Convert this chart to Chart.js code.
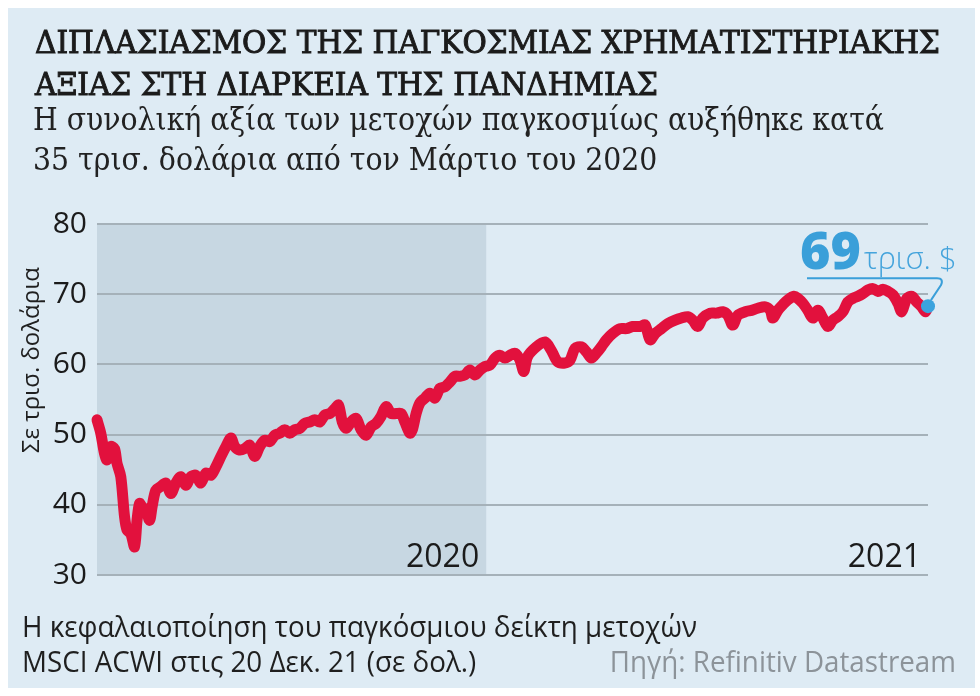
<!DOCTYPE html>
<html lang="el">
<head>
<meta charset="utf-8">
<title>Διπλασιασμός της παγκόσμιας χρηματιστηριακής αξίας</title>
<script src="https://cdn.jsdelivr.net/npm/chart.js@4.4.1/dist/chart.umd.min.js"></script>
<style>
  html, body { margin: 0; padding: 0; background: #fff; }
  #wrap { position: relative; width: 980px; height: 696px; }
  canvas { display: block; }
</style>
</head>
<body>
<div id="wrap"><canvas id="chart" width="980" height="696"></canvas></div>
<script>
// days since 21 Feb 2020, market cap in trillion $
const days = [
  0, 3, 6, 8, 11, 14, 16, 19, 22, 24, 27, 30, 32, 34, 36, 39, 42, 44, 47, 51,
  55, 59, 63, 67, 71, 75, 79, 83, 87, 91, 95, 99, 103, 107, 110, 114, 118, 122, 126, 130,
  134, 138, 142, 146, 150, 154, 158, 162, 166, 170, 174, 178, 182, 186, 190, 193, 196, 199, 203, 207,
  211, 215, 219, 223, 227, 231, 235, 239, 243, 246, 250, 252, 255, 258, 262, 266, 270, 274, 278, 282,
  286, 290, 294, 298, 302, 306, 310, 314, 318, 322, 326, 330, 334, 338, 341, 344, 351, 358, 363, 368,
  374, 378, 382, 387, 391, 395, 399, 403, 407, 412, 418, 423, 428, 434, 438, 442, 446, 451, 456, 462,
  467, 472, 476, 480, 484, 490, 495, 500, 504, 508, 512, 518, 523, 528, 534, 538, 540, 544, 548, 552,
  557, 560, 564, 568, 572, 576, 580, 584, 588, 592, 596, 600, 604, 608, 612, 616, 620, 624, 628, 632,
  636, 640, 643, 647, 651, 655, 659, 662, 664
]
const values = [
  52.1, 50.2, 47.3, 46.4, 48.3, 48.0, 45.9, 44.0, 38.3, 36.4, 35.9, 34.0, 37.8, 40.2, 39.7, 39.3, 37.8, 39.7, 42.1, 42.6,
  43.1, 41.6, 43.1, 44.0, 42.8, 44.0, 44.2, 43.1, 44.5, 44.2, 45.4, 46.9, 48.3, 49.5, 48.3, 47.8, 48.0, 48.5, 46.9, 48.3,
  49.2, 49.0, 49.9, 50.2, 50.7, 50.2, 50.7, 50.9, 51.6, 51.8, 52.1, 51.8, 52.8, 53.0, 53.7, 54.2, 51.8, 50.9, 51.8, 52.3,
  50.7, 49.9, 51.1, 51.6, 52.6, 54.0, 53.0, 53.0, 53.0, 51.8, 50.2, 50.7, 53.0, 54.5, 55.2, 55.9, 55.2, 56.6, 56.8, 57.5,
  58.3, 58.3, 58.5, 59.2, 58.5, 59.2, 59.7, 59.9, 60.9, 61.3, 60.9, 61.3, 61.6, 60.6, 59.0, 61.1, 62.5, 63.2, 62.0, 60.4,
  60.2, 60.6, 62.3, 62.5, 61.8, 60.9, 61.6, 62.5, 63.5, 64.4, 65.1, 65.1, 65.4, 65.4, 65.6, 63.5, 64.4, 65.1, 65.8, 66.3,
  66.6, 66.8, 66.3, 65.4, 66.6, 67.3, 67.3, 67.5, 67.0, 65.6, 67.0, 67.5, 67.7, 68.0, 68.2, 67.7, 66.6, 67.7, 68.5, 69.2,
  69.7, 69.4, 68.7, 67.7, 66.6, 67.7, 66.6, 65.4, 66.3, 66.8, 67.5, 68.9, 69.4, 69.7, 70.1, 70.6, 70.8, 70.4, 70.7, 70.4,
  69.9, 68.7, 67.5, 69.4, 69.7, 68.9, 68.2, 67.5, 68.3
]
const yTicks = [30, 40, 50, 60, 70, 80]
const yearLabels = ["2020", "2021"]
const yearEnds = [311, 664]
const shadeEnd = 311
const lastLabel = "69"
const lastUnit = "τρισ. $"

const titleLines = [
  "ΔΙΠΛΑΣΙΑΣΜΟΣ ΤΗΣ ΠΑΓΚΟΣΜΙΑΣ ΧΡΗΜΑΤΙΣΤΗΡΙΑΚΗΣ",
  "ΑΞΙΑΣ ΣΤΗ ΔΙΑΡΚΕΙΑ ΤΗΣ ΠΑΝΔΗΜΙΑΣ"
]
const subtitleLines = [
  "Η συνολική αξία των μετοχών παγκοσμίως αυξήθηκε κατά",
  "35 τρισ. δολάρια από τον Μάρτιο του 2020"
]
const noteLines = [
  "Η κεφαλαιοποίηση του παγκόσμιου δείκτη μετοχών",
  "MSCI ACWI στις 20 Δεκ. 21 (σε δολ.)"
]
const sourceText = "Πηγή: Refinitiv Datastream"
const yTitle = "Σε τρισ. δολάρια"

const SERIF = "'DejaVu Serif Condensed', 'DejaVu Serif', serif"
const SANS = "'Open Sans', 'Noto Sans', sans-serif"

// draw lines of text squeezed horizontally so the first line fits `width`
const drawLines = (ctx, lines, x, y, gap, font, color, width, stroke = 0) => {
  ctx.save()
  ctx.font = font
  ctx.fillStyle = color
  ctx.strokeStyle = color
  ctx.lineWidth = stroke
  ctx.textBaseline = "alphabetic"
  const sx = width ? width / ctx.measureText(lines[0]).width : 1
  lines.forEach((line, i) => {
    ctx.save()
    ctx.translate(x, y + i * gap)
    ctx.scale(sx, 1)
    ctx.fillText(line, 0, 0)
    if (stroke) ctx.strokeText(line, 0, 0)
    ctx.restore()
  })
  ctx.restore()
  return sx
}

const decor = {
  id: "decor",
  beforeDraw(chart) {
    const { ctx, chartArea: a, scales: { x } } = chart
    ctx.save()
    ctx.fillStyle = "#ffffff"
    ctx.fillRect(0, 0, chart.width, chart.height)
    ctx.fillStyle = "#deebf4"
    ctx.fillRect(8, 8, 967, 680)
    const x1 = x.getPixelForValue(shadeEnd)
    ctx.fillStyle = "#c7d7e2"
    ctx.fillRect(a.left, a.top, x1 - a.left, a.bottom - a.top)
    ctx.restore()
  },
  afterDatasetsDraw(chart) {
    const { ctx, chartArea: a, scales: { x, y } } = chart

    // year labels inside the plot
    ctx.save()
    ctx.font = `400 32px ${SANS}`
    ctx.fillStyle = "#1b1b1b"
    ctx.textAlign = "right"
    yearLabels.forEach((label, i) => {
      ctx.fillText(label, x.getPixelForValue(yearEnds[i]) - 7, a.bottom - 8)
    })
    ctx.restore()

    // last value callout
    const dx = x.getPixelForValue(days[days.length - 1])
    const dy = y.getPixelForValue(values[values.length - 1])
    ctx.save()
    ctx.strokeStyle = "#3a9fd9"
    ctx.lineWidth = 2
    ctx.beginPath()
    ctx.moveTo(dx - 121, dy - 28)
    ctx.lineTo(dx + 9, dy - 28)
    ctx.quadraticCurveTo(dx + 16, dy - 28, dx + 13, dy - 21)
    ctx.lineTo(dx + 3, dy - 6)
    ctx.stroke()
    ctx.fillStyle = "#3a9fd9"
    ctx.font = `800 52px ${SANS}`
    ctx.textBaseline = "alphabetic"
    ctx.fillText(lastLabel, dx - 128, dy - 37)
    const w = ctx.measureText(lastLabel).width
    ctx.fillStyle = "#45a4dc"
    ctx.font = `300 31px ${SANS}`
    ctx.fillText(lastUnit, dx - 128 + w + 3, dy - 37)
    ctx.restore()
  },
  afterDraw(chart) {
    const { ctx } = chart
    drawLines(ctx, titleLines, 35, 53, 42, `31px ${SERIF}`, "#1b1b1b", 905, 0.9)
    drawLines(ctx, subtitleLines, 33, 130, 40, `32px ${SERIF}`, "#222222", 851)
    const sx = drawLines(ctx, noteLines, 22, 637, 35, `400 30px ${SANS}`, "#1f1f1f", 675)
    ctx.save()
    ctx.font = `400 30px ${SANS}`
    ctx.fillStyle = "#8c9399"
    ctx.textAlign = "right"
    ctx.translate(956, 672)
    ctx.scale(sx, 1)
    ctx.fillText(sourceText, 0, 0)
    ctx.restore()

    // rotated y-axis title
    ctx.save()
    ctx.font = `400 24px ${SANS}`
    ctx.fillStyle = "#1f1f1f"
    ctx.textAlign = "center"
    ctx.translate(39, 360)
    ctx.rotate(-Math.PI / 2)
    ctx.fillText(yTitle, 0, 0)
    ctx.restore()
  }
}

const points = days.map((d, i) => ({ x: d, y: values[i] }))
const lastPoint = points[points.length - 1]

new Chart(document.getElementById("chart"), {
  type: "line",
  data: {
    datasets: [
      {
        data: [lastPoint],
        showLine: false,
        pointRadius: 7,
        pointBackgroundColor: "#3ba3dd",
        pointBorderWidth: 0,
        clip: false,
        order: 0
      },
      {
        data: points,
        borderColor: "#e2113d",
        borderWidth: 11,
        borderJoinStyle: "round",
        borderCapStyle: "round",
        tension: 0.3,
        pointRadius: 0,
        fill: false,
        clip: false,
        order: 1
      }
    ]
  },
  options: {
    responsive: false,
    animation: false,
    events: [],
    layout: { padding: { left: 18, right: 52, top: 224, bottom: 121 } },
    plugins: {
      legend: { display: false },
      tooltip: { enabled: false }
    },
    scales: {
      x: {
        type: "linear",
        min: days[0],
        max: days[days.length - 1],
        display: false
      },
      y: {
        min: yTicks[0],
        max: yTicks[yTicks.length - 1],
        afterBuildTicks: (scale) => {
          scale.ticks = yTicks.map((v) => ({ value: v }))
        },
        afterFit: (scale) => {
          scale.width = 79
        },
        border: { display: false },
        grid: { color: "#a5b1b9", lineWidth: 2, drawTicks: false },
        ticks: {
          padding: 10,
          color: "#1b1b1b",
          font: { family: SANS, size: 30, weight: "400" }
        }
      }
    }
  },
  plugins: [decor]
})
</script>
</body>
</html>
